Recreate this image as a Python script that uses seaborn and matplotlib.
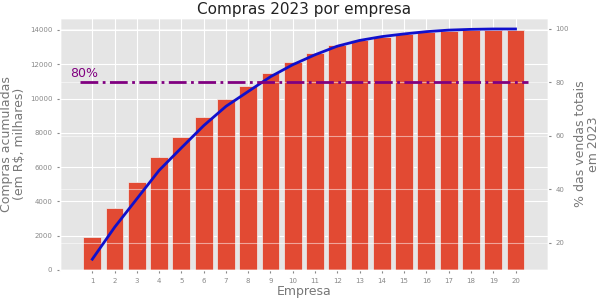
import matplotlib
matplotlib.use("Agg")
import matplotlib.pyplot as plt
import seaborn as sns
import numpy as np
import pandas as pd

# Data
empresas = list(range(1, 21))
compras_acum = [1950, 3620, 5110, 6600, 7780, 8940, 9950, 10730, 11500, 12130,
                12650, 13100, 13400, 13600, 13740, 13860, 13940, 13980, 14000, 14000]
pct_acum = [c / compras_acum[-1] * 100 for c in compras_acum]
corte = 80

plt.style.use("ggplot")
df = pd.DataFrame({"Empresa": empresas, "Compras": compras_acum, "Pct": pct_acum})

fig, ax = plt.subplots(figsize=(6, 3), dpi=100)
fig.subplots_adjust(left=0.1, right=0.913, top=0.94, bottom=0.1)

sns.barplot(data=df, x="Empresa", y="Compras", native_scale=True, color="#E24A33",
            saturation=1, width=0.8, edgecolor="#EEEEEE", linewidth=0.5, ax=ax)
ax.set_xlim(-0.45, 21.45)
ax.set_ylim(0, 14700)
ax.set_xticks(empresas)
ax.set_xticklabels([str(e) for e in empresas])
ax.set_yticks(np.arange(0, 14001, 2000))
ax.tick_params(labelsize=5, colors="#888888", length=2)
ax.set_xlabel("Empresa", fontsize=9, color="#777777", labelpad=1)
ax.set_ylabel("Compras acumuladas\n(em R$, milhares)", fontsize=9, color="#777777",
              labelpad=3, linespacing=1.0)
ax.set_title("Compras 2023 por empresa", fontsize=11, pad=3, color="#222222")

ax2 = ax.twinx()
sns.lineplot(data=df, x="Empresa", y="Pct", color="#1010CC", linewidth=2, ax=ax2)
ax2.hlines(corte, 0.46, 20.54, colors="#800080", linestyles="-.", linewidth=2)
ax2.text(0.0, 83.5, "80%", color="#800080", fontsize=9, va="center", ha="left")
ax2.set_ylim(9.9, 104.1)
ax2.set_yticks([20, 40, 60, 80, 100])
ax2.tick_params(labelsize=5, colors="#888888", length=2)
ax2.set_ylabel("% das vendas totais\nem 2023", fontsize=9, color="#777777",
               labelpad=4, linespacing=1.0)
ax2.set_xlabel("")
ax2.grid(True, color="white", alpha=0.5)

fig.savefig("out.png", dpi=100)
